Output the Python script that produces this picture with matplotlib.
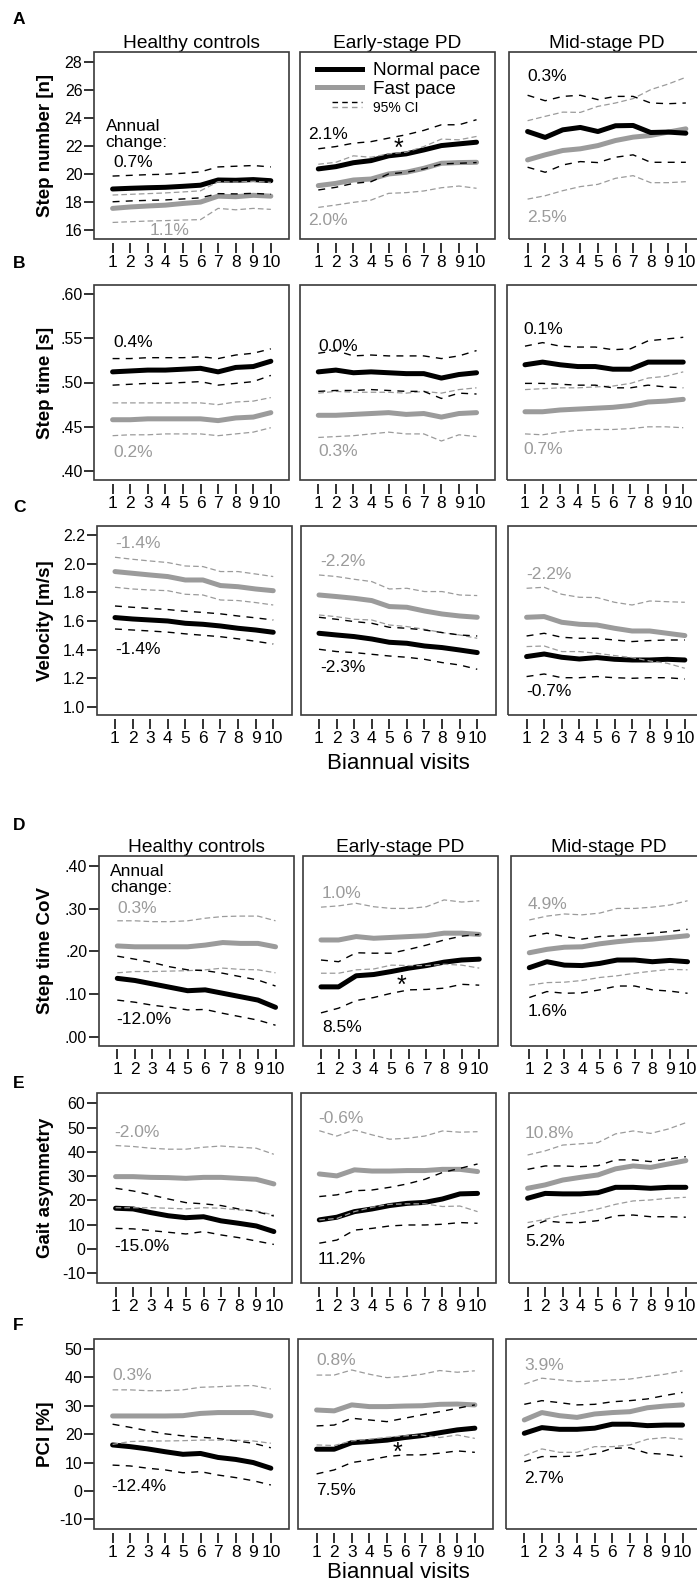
import matplotlib.pyplot as plt
from matplotlib.lines import Line2D
from matplotlib.legend_handler import HandlerBase
from matplotlib.patches import Rectangle
from matplotlib.ticker import FuncFormatter

plt.rcParams['font.family'] = ['Liberation Sans', 'DejaVu Sans']

visits = list(range(1, 11))
groups = ['Healthy controls', 'Early-stage PD', 'Mid-stage PD']
letters = ['A', 'B', 'C', 'D', 'E', 'F']
ylabels = ['Step number [n]', 'Step time [s]', 'Velocity [m/s]',
           'Step time CoV', 'Gait asymmetry', 'PCI [%]']

# ---- step number ----
step_hc = dict(
    normal=[18.93, 18.98, 19.02, 19.05, 19.12, 19.2, 19.57, 19.55, 19.6, 19.52],
    normal_lo=[18.02, 18.08, 18.12, 18.15, 18.22, 18.3, 18.6, 18.58, 18.62, 18.55],
    normal_hi=[19.85, 19.9, 19.95, 19.98, 20.05, 20.15, 20.5, 20.55, 20.6, 20.5],
    fast=[17.55, 17.65, 17.72, 17.78, 17.9, 18.0, 18.42, 18.38, 18.48, 18.42],
    fast_lo=[16.55, 16.6, 16.65, 16.68, 16.72, 16.75, 17.55, 17.45, 17.55, 17.48],
    fast_hi=[18.5, 18.55, 18.6, 18.65, 18.72, 18.8, 19.45, 19.42, 19.48, 19.4])
step_early = dict(
    normal=[20.36, 20.52, 20.8, 20.95, 21.29, 21.43, 21.71, 22.02, 22.14, 22.26],
    normal_lo=[18.86, 19.05, 19.33, 19.45, 20.0, 20.12, 20.36, 20.71, 20.76, 20.81],
    normal_hi=[21.79, 21.95, 22.19, 22.3, 22.55, 22.79, 23.1, 23.5, 23.5, 23.86],
    fast=[19.17, 19.33, 19.57, 19.64, 20.0, 20.12, 20.4, 20.76, 20.81, 20.83],
    fast_lo=[17.62, 17.79, 17.98, 18.14, 18.62, 18.67, 18.79, 19.02, 19.14, 18.98],
    fast_hi=[20.69, 20.83, 21.29, 21.19, 21.43, 21.55, 21.95, 22.48, 22.43, 22.67])
step_mid = dict(
    normal=[23.02, 22.6, 23.14, 23.31, 23.02, 23.43, 23.45, 22.95, 22.98, 22.9],
    normal_lo=[20.48, 20.12, 20.64, 20.88, 20.81, 21.19, 21.36, 20.83, 20.83, 20.83],
    normal_hi=[25.6, 25.21, 25.52, 25.6, 25.29, 25.52, 25.52, 25.05, 25.0, 25.05],
    fast=[21.0, 21.36, 21.67, 21.79, 22.02, 22.38, 22.62, 22.74, 22.98, 23.21],
    fast_lo=[18.21, 18.45, 18.81, 19.1, 19.26, 19.69, 19.88, 19.38, 19.38, 19.45],
    fast_hi=[23.79, 24.1, 24.4, 24.38, 24.81, 25.05, 25.36, 26.0, 26.4, 26.88])

# ---- step time ----
time_hc = dict(
    normal=[0.512, 0.513, 0.514, 0.514, 0.515, 0.516, 0.512, 0.517, 0.518, 0.524],
    normal_lo=[0.497, 0.498, 0.499, 0.499, 0.500, 0.501, 0.497, 0.499, 0.501, 0.508],
    normal_hi=[0.527, 0.527, 0.528, 0.528, 0.528, 0.529, 0.527, 0.531, 0.533, 0.538],
    fast=[0.458, 0.458, 0.459, 0.459, 0.459, 0.459, 0.457, 0.460, 0.461, 0.466],
    fast_lo=[0.440, 0.441, 0.441, 0.442, 0.442, 0.442, 0.440, 0.442, 0.444, 0.449],
    fast_hi=[0.477, 0.477, 0.477, 0.477, 0.477, 0.477, 0.475, 0.478, 0.479, 0.483])
time_early = dict(
    normal=[0.512, 0.514, 0.511, 0.512, 0.511, 0.510, 0.510, 0.505, 0.509, 0.511],
    normal_lo=[0.490, 0.491, 0.491, 0.492, 0.491, 0.490, 0.490, 0.482, 0.488, 0.487],
    normal_hi=[0.533, 0.536, 0.530, 0.531, 0.530, 0.530, 0.530, 0.527, 0.530, 0.536],
    fast=[0.463, 0.463, 0.464, 0.465, 0.466, 0.464, 0.465, 0.461, 0.465, 0.466],
    fast_lo=[0.438, 0.439, 0.440, 0.442, 0.444, 0.442, 0.442, 0.434, 0.441, 0.439],
    fast_hi=[0.488, 0.490, 0.489, 0.489, 0.489, 0.488, 0.490, 0.488, 0.492, 0.494])
time_mid = dict(
    normal=[0.520, 0.523, 0.520, 0.518, 0.518, 0.515, 0.515, 0.523, 0.523, 0.523],
    normal_lo=[0.499, 0.499, 0.498, 0.497, 0.497, 0.494, 0.494, 0.497, 0.495, 0.494],
    normal_hi=[0.541, 0.545, 0.541, 0.540, 0.540, 0.537, 0.538, 0.547, 0.549, 0.551],
    fast=[0.467, 0.467, 0.469, 0.470, 0.471, 0.472, 0.474, 0.478, 0.479, 0.481],
    fast_lo=[0.442, 0.441, 0.444, 0.446, 0.447, 0.447, 0.448, 0.450, 0.450, 0.449],
    fast_hi=[0.492, 0.493, 0.494, 0.494, 0.495, 0.496, 0.499, 0.505, 0.507, 0.512])

# ---- velocity ----
vel_hc = dict(
    normal=[1.624, 1.614, 1.607, 1.600, 1.584, 1.577, 1.565, 1.549, 1.537, 1.521],
    normal_lo=[1.544, 1.537, 1.530, 1.522, 1.510, 1.500, 1.490, 1.475, 1.458, 1.439],
    normal_hi=[1.705, 1.696, 1.688, 1.680, 1.668, 1.660, 1.650, 1.635, 1.622, 1.607],
    fast=[1.946, 1.934, 1.922, 1.911, 1.887, 1.887, 1.848, 1.840, 1.824, 1.812],
    fast_lo=[1.836, 1.824, 1.817, 1.812, 1.787, 1.782, 1.747, 1.743, 1.729, 1.712],
    fast_hi=[2.046, 2.032, 2.020, 2.009, 1.985, 1.981, 1.946, 1.946, 1.929, 1.911])
vel_early = dict(
    normal=[1.514, 1.502, 1.491, 1.474, 1.451, 1.444, 1.425, 1.414, 1.397, 1.379],
    normal_lo=[1.402, 1.386, 1.379, 1.367, 1.355, 1.346, 1.332, 1.309, 1.292, 1.262],
    normal_hi=[1.626, 1.612, 1.596, 1.584, 1.556, 1.549, 1.537, 1.519, 1.502, 1.495],
    fast=[1.782, 1.771, 1.759, 1.743, 1.701, 1.696, 1.670, 1.649, 1.635, 1.626],
    fast_lo=[1.642, 1.630, 1.612, 1.607, 1.572, 1.561, 1.542, 1.519, 1.502, 1.479],
    fast_hi=[1.922, 1.911, 1.892, 1.876, 1.824, 1.829, 1.806, 1.806, 1.782, 1.778])
vel_mid = dict(
    normal=[1.351, 1.369, 1.346, 1.334, 1.344, 1.332, 1.327, 1.327, 1.332, 1.327],
    normal_lo=[1.211, 1.229, 1.203, 1.203, 1.211, 1.203, 1.199, 1.203, 1.203, 1.194],
    normal_hi=[1.495, 1.514, 1.486, 1.479, 1.479, 1.467, 1.456, 1.463, 1.467, 1.467],
    fast=[1.626, 1.631, 1.591, 1.577, 1.572, 1.549, 1.530, 1.530, 1.514, 1.498],
    fast_lo=[1.421, 1.425, 1.386, 1.386, 1.374, 1.358, 1.344, 1.320, 1.304, 1.269],
    fast_hi=[1.829, 1.836, 1.787, 1.766, 1.764, 1.731, 1.712, 1.740, 1.735, 1.731])

# ---- step time CoV ----
cov_hc = dict(
    normal=[0.137, 0.132, 0.124, 0.116, 0.108, 0.110, 0.102, 0.094, 0.086, 0.069],
    normal_lo=[0.086, 0.081, 0.074, 0.069, 0.063, 0.064, 0.055, 0.047, 0.039, 0.027],
    normal_hi=[0.189, 0.182, 0.174, 0.164, 0.157, 0.155, 0.149, 0.141, 0.133, 0.119],
    fast=[0.213, 0.211, 0.211, 0.211, 0.211, 0.215, 0.221, 0.219, 0.219, 0.211],
    fast_lo=[0.150, 0.153, 0.153, 0.154, 0.155, 0.157, 0.161, 0.158, 0.157, 0.150],
    fast_hi=[0.272, 0.272, 0.270, 0.270, 0.272, 0.278, 0.282, 0.283, 0.283, 0.272])
cov_early = dict(
    normal=[0.117, 0.117, 0.143, 0.146, 0.153, 0.161, 0.167, 0.175, 0.180, 0.182],
    normal_lo=[0.056, 0.067, 0.085, 0.092, 0.102, 0.110, 0.111, 0.114, 0.123, 0.121],
    normal_hi=[0.180, 0.176, 0.197, 0.196, 0.196, 0.205, 0.215, 0.227, 0.236, 0.240],
    fast=[0.227, 0.227, 0.235, 0.231, 0.233, 0.235, 0.237, 0.243, 0.243, 0.240],
    fast_lo=[0.149, 0.149, 0.157, 0.159, 0.168, 0.167, 0.167, 0.170, 0.168, 0.161],
    fast_hi=[0.304, 0.307, 0.313, 0.305, 0.301, 0.301, 0.305, 0.321, 0.316, 0.319])
cov_mid = dict(
    normal=[0.162, 0.176, 0.168, 0.167, 0.172, 0.180, 0.180, 0.176, 0.179, 0.176],
    normal_lo=[0.092, 0.106, 0.102, 0.103, 0.110, 0.119, 0.119, 0.110, 0.107, 0.102],
    normal_hi=[0.235, 0.243, 0.235, 0.229, 0.235, 0.237, 0.239, 0.243, 0.247, 0.252],
    fast=[0.197, 0.205, 0.210, 0.211, 0.218, 0.223, 0.227, 0.229, 0.233, 0.237],
    fast_lo=[0.121, 0.127, 0.128, 0.132, 0.139, 0.143, 0.149, 0.154, 0.158, 0.157],
    fast_hi=[0.274, 0.283, 0.288, 0.286, 0.290, 0.301, 0.301, 0.304, 0.309, 0.319])

# ---- gait asymmetry ----
asym_hc = dict(
    normal=[16.8, 16.5, 15.0, 13.7, 12.9, 13.3, 11.6, 10.6, 9.5, 7.2],
    normal_lo=[8.5, 8.3, 7.6, 6.9, 6.2, 7.2, 5.8, 4.7, 3.3, 1.9],
    normal_hi=[25.0, 23.9, 22.3, 20.6, 19.1, 18.6, 17.9, 16.5, 15.4, 13.6],
    fast=[29.8, 29.8, 29.5, 29.4, 29.1, 29.5, 29.5, 29.1, 28.7, 26.8],
    fast_lo=[17.0, 17.0, 17.0, 16.8, 16.5, 17.0, 16.8, 16.1, 15.7, 14.0],
    fast_hi=[42.6, 42.2, 41.5, 41.1, 41.1, 41.9, 42.4, 41.9, 41.5, 39.0])
asym_early = dict(
    normal=[12.0, 13.1, 15.4, 16.5, 17.9, 18.8, 19.2, 20.6, 22.7, 22.9],
    normal_lo=[2.4, 3.7, 7.8, 8.5, 9.5, 9.9, 9.9, 10.2, 10.9, 10.6],
    normal_hi=[21.6, 22.3, 24.0, 24.3, 25.4, 26.8, 28.7, 31.5, 33.2, 35.0],
    fast=[30.9, 30.1, 32.6, 32.1, 32.1, 32.3, 32.3, 32.8, 32.8, 31.9],
    fast_lo=[12.0, 12.6, 15.4, 17.2, 18.4, 18.6, 18.6, 17.5, 17.7, 15.4],
    fast_hi=[48.7, 46.5, 49.0, 47.0, 45.2, 45.6, 46.5, 48.6, 48.1, 48.3])
asym_mid = dict(
    normal=[20.9, 22.9, 22.7, 22.7, 23.2, 25.4, 25.4, 25.0, 25.4, 25.4],
    normal_lo=[8.8, 11.6, 10.9, 10.9, 11.7, 13.7, 14.0, 13.3, 13.3, 13.1],
    normal_hi=[32.8, 34.2, 34.2, 33.9, 34.3, 36.7, 36.7, 36.0, 37.1, 38.0],
    fast=[25.0, 26.4, 28.4, 29.5, 30.5, 33.0, 34.2, 33.6, 35.0, 36.4],
    fast_lo=[10.9, 12.2, 14.0, 15.1, 16.5, 18.4, 19.8, 20.2, 20.9, 21.3],
    fast_hi=[38.7, 40.4, 42.8, 43.3, 43.8, 47.4, 48.6, 47.6, 49.4, 52.0])

# ---- PCI ----
pci_hc = dict(
    normal=[16.2, 15.6, 14.8, 13.8, 12.9, 13.2, 11.8, 11.1, 10.0, 8.0],
    normal_lo=[9.1, 8.8, 8.0, 7.4, 6.4, 6.8, 5.6, 4.7, 3.6, 2.1],
    normal_hi=[23.5, 22.4, 21.2, 20.1, 19.4, 18.9, 18.5, 17.6, 16.8, 15.2],
    fast=[26.4, 26.4, 26.4, 26.4, 26.5, 27.3, 27.6, 27.6, 27.6, 26.4],
    fast_lo=[16.4, 17.4, 17.6, 17.6, 17.7, 17.9, 17.9, 17.9, 17.6, 16.8],
    fast_hi=[35.6, 35.6, 35.3, 35.3, 35.6, 36.5, 36.7, 37.0, 37.1, 35.9])
pci_early = dict(
    normal=[14.7, 14.7, 17.0, 17.4, 17.9, 18.8, 19.5, 20.5, 21.5, 22.1],
    normal_lo=[6.0, 7.4, 10.0, 10.9, 12.1, 12.7, 12.7, 13.3, 14.1, 13.6],
    normal_hi=[22.9, 23.2, 25.6, 25.0, 24.4, 25.6, 26.8, 27.9, 29.1, 30.3],
    fast=[28.5, 28.2, 30.3, 29.7, 29.7, 29.9, 30.0, 30.5, 30.6, 30.3],
    fast_lo=[16.2, 16.0, 17.6, 18.2, 18.9, 19.4, 19.7, 18.8, 19.7, 18.5],
    fast_hi=[40.8, 40.8, 42.6, 41.1, 39.9, 40.3, 41.1, 42.4, 41.8, 42.3])
pci_mid = dict(
    normal=[20.3, 22.3, 21.7, 21.7, 22.1, 23.5, 23.5, 23.0, 23.2, 23.2],
    normal_lo=[10.3, 12.1, 12.1, 12.3, 13.0, 15.0, 15.2, 13.3, 12.9, 12.1],
    normal_hi=[30.5, 31.8, 31.1, 30.3, 30.5, 31.4, 31.8, 32.4, 33.6, 34.7],
    fast=[25.0, 27.6, 26.5, 25.9, 27.1, 27.6, 27.9, 29.3, 29.9, 30.3],
    fast_lo=[12.4, 14.8, 13.6, 13.6, 15.6, 15.6, 16.2, 18.2, 18.8, 18.2],
    fast_hi=[37.6, 39.7, 39.1, 38.5, 38.7, 39.1, 39.4, 40.3, 41.1, 42.3])

# annual change labels (normal pace, fast pace) per group
step_pct = [('0.7%', '1.1%'), ('2.1%', '2.0%'), ('0.3%', '2.5%')]
time_pct = [('0.4%', '0.2%'), ('0.0%', '0.3%'), ('0.1%', '0.7%')]
vel_pct = [('-1.4%', '-1.4%'), ('-2.3%', '-2.2%'), ('-0.7%', '-2.2%')]
cov_pct = [('-12.0%', '0.3%'), ('8.5%', '1.0%'), ('1.6%', '4.9%')]
asym_pct = [('-15.0%', '-2.0%'), ('11.2%', '-0.6%'), ('5.2%', '10.8%')]
pci_pct = [('-12.4%', '0.3%'), ('7.5%', '0.8%'), ('2.7%', '3.9%')]

rows = [
    ([step_hc, step_early, step_mid], step_pct),
    ([time_hc, time_early, time_mid], time_pct),
    ([vel_hc, vel_early, vel_mid], vel_pct),
    ([cov_hc, cov_early, cov_mid], cov_pct),
    ([asym_hc, asym_early, asym_mid], asym_pct),
    ([pci_hc, pci_early, pci_mid], pci_pct),
]

# ---- layout (pixels on a 697 x 1584 canvas) ----
W, H = 697, 1584
GRAY = '#9b9b9b'
row_top = [51.7, 285, 525.7, 856, 1093.3, 1339.3]
row_bot = [239.3, 480, 715, 1045.7, 1283.3, 1529]
col_left = [(94.3, 300, 509.3), (94.3, 300, 506.7), (96.7, 300.7, 508.3),
            (99, 302.7, 511), (97.3, 301, 509.3), (94.3, 298.3, 506)]
panel_w = 195
letter_y = [20, 264, 507, 825, 1083, 1325]

ylims = [(15.35, 28.7), (0.39, 0.61), (0.942, 2.267),
         (-0.021, 0.424), (-14.1, 64.1), (-13.4, 53.4)]
yticks = [[16, 18, 20, 22, 24, 26, 28],
          [0.40, 0.45, 0.50, 0.55, 0.60],
          [1.0, 1.2, 1.4, 1.6, 1.8, 2.0, 2.2],
          [0.0, 0.1, 0.2, 0.3, 0.4],
          [-10, 0, 10, 20, 30, 40, 50, 60],
          [-10, 0, 10, 20, 30, 40, 50]]
yfmt = [lambda v, p: f'{v:.0f}',
        lambda v, p: f'{v:.2f}'.lstrip('0'),
        lambda v, p: f'{v:.1f}',
        lambda v, p: f'{v:.2f}'.lstrip('0'),
        lambda v, p: f'{v:.0f}',
        lambda v, p: f'{v:.0f}']

# text positions (visit, value) for (normal, fast) labels
label_pos = [
    [((1.04, 20.8), (3.1, 16.0)), ((0.41, 22.8), (0.41, 16.7)), ((1.0, 26.9), (1.0, 16.9))],
    [((1.04, 0.5447), (1.04, 0.421)), ((1.0, 0.5406), (1.0, 0.4222)), ((0.9, 0.5602), (0.9, 0.4241))],
    [((1.0, 1.402), (1.0, 2.144)), ((1.05, 1.274), (1.05, 2.016)), ((1.0, 1.105), (1.0, 1.927))],
    [((0.93, 0.0407), (1.0, 0.3014)), ((1.05, 0.0219), (1.05, 0.3366)), ((0.93, 0.0587), (0.93, 0.3108))],
    [((0.93, 1.0), (0.93, 48.1)), ((0.93, -4.5), (0.93, 53.8)), ((0.85, 3.0), (0.85, 47.4))],
    [((0.93, 1.7), (1.0, 40.5)), ((1.0, 0.3), (1.0, 46.1)), ((1.0, 4.4), (1.0, 44.0))],
]
annual_pos = {0: (0.6, 22.8), 3: (0.58, 0.3687)}
star_pos = {0: (5.55, 21.8), 3: (5.6, 0.120), 5: (5.6, 13.4)}


class CIHandler(HandlerBase):
    def create_artists(self, legend, orig_handle, xdescent, ydescent,
                       width, height, fontsize, trans):
        x0 = -xdescent + width * 0.33
        x1 = -xdescent + width
        yc = -ydescent + height / 2
        top = Line2D([x0, x1], [yc + 2.2, yc + 2.2], color='black', lw=1.0,
                     dashes=(4, 3), transform=trans)
        bot = Line2D([x0, x1], [yc - 1.4, yc - 1.4], color=GRAY, lw=1.0,
                     dashes=(4, 3), transform=trans)
        return [top, bot]


fig = plt.figure(figsize=(W / 100, H / 100), dpi=100)

for r, (panels, pcts) in enumerate(rows):
    for c, d in enumerate(panels):
        left = col_left[r][c]
        ax = fig.add_axes([left / W, 1 - row_bot[r] / H, panel_w / W,
                           (row_bot[r] - row_top[r]) / H])
        ax.plot(visits, d['fast'], color=GRAY, lw=3.6, solid_capstyle='round',
                zorder=3)
        ax.plot(visits, d['normal'], color='black', lw=3.6,
                solid_capstyle='round', zorder=3)
        for key in ('fast_lo', 'fast_hi'):
            ax.plot(visits, d[key], color=GRAY, lw=0.9, dashes=(4.5, 2.5),
                    zorder=4)
        for key in ('normal_lo', 'normal_hi'):
            ax.plot(visits, d[key], color='black', lw=1.0, dashes=(5, 4.5),
                    zorder=4)

        ax.set_xlim(-0.04, 11.05)
        ax.set_ylim(*ylims[r])
        ax.set_xticks(visits)
        ax.set_yticks(yticks[r])
        ax.yaxis.set_major_formatter(FuncFormatter(yfmt[r]))
        for s in ax.spines.values():
            s.set_visible(False)
        ax.spines['bottom'].set_position(('outward', 2.6))
        ax.add_patch(Rectangle((0, 0), 1, 1, transform=ax.transAxes,
                               fill=False, ec='#3a3a3a', lw=1.2,
                               clip_on=False, zorder=6))
        ax.tick_params(axis='x', direction='out', length=7.5, width=1.3,
                       pad=1.5, labelsize=12.5, color='#222222')
        ax.tick_params(axis='y', direction='out', length=7.5, width=1.3,
                       pad=1.0, labelsize=11.5, color='#222222')
        if c != 0:
            ax.tick_params(axis='y', left=False, labelleft=False)

        (nx, ny), (fx, fy) = label_pos[r][c]
        ax.text(nx, ny, pcts[c][0], color='black', fontsize=12.5,
                ha='left', va='center', zorder=7)
        ax.text(fx, fy, pcts[c][1], color=GRAY, fontsize=12.5,
                ha='left', va='center', zorder=7)

        if c == 0 and r in annual_pos:
            ax.text(*annual_pos[r], 'Annual\nchange:', fontsize=12.5,
                    ha='left', va='center', linespacing=1.05, zorder=7)
        if c == 1 and r in star_pos:
            ax.text(*star_pos[r], '*', fontsize=18, ha='center', va='center',
                    zorder=7)

        if r in (0, 3):
            ax.set_title(groups[c], fontsize=13.8, pad=3)
        if c == 0:
            yc = 1 - (row_top[r] + row_bot[r]) / 2 / H
            fig.text(45 / W, yc, ylabels[r], rotation=90, fontsize=13.5,
                     fontweight='bold', ha='center', va='center')

        if r == 0 and c == 1:
            h_norm = Line2D([], [], color='black', lw=3.6)
            h_fast = Line2D([], [], color=GRAY, lw=3.6)
            h_ci = Line2D([], [], color='black', ls='--')
            leg = ax.legend([h_norm, h_fast, h_ci],
                            ['Normal pace', 'Fast pace', '95% CI'],
                            handler_map={h_ci: CIHandler()},
                            loc='upper left', bbox_to_anchor=(0.085, 0.945),
                            frameon=False, fontsize=13.7, handlelength=2.4,
                            handletextpad=0.55, labelspacing=0.05,
                            borderpad=0, borderaxespad=0)
            leg.get_texts()[2].set_fontsize(10)
            leg.set_zorder(8)

    fig.text(13 / W, 1 - letter_y[r] / H, letters[r], fontsize=12.5,
             fontweight='bold', ha='left', va='center')

fig.text(398 / W, 1 - 764 / H, 'Biannual visits', fontsize=16,
         ha='center', va='center')
fig.text(398 / W, 1 - 1572 / H, 'Biannual visits', fontsize=16,
         ha='center', va='center')

fig.savefig('out.png', dpi=100)
